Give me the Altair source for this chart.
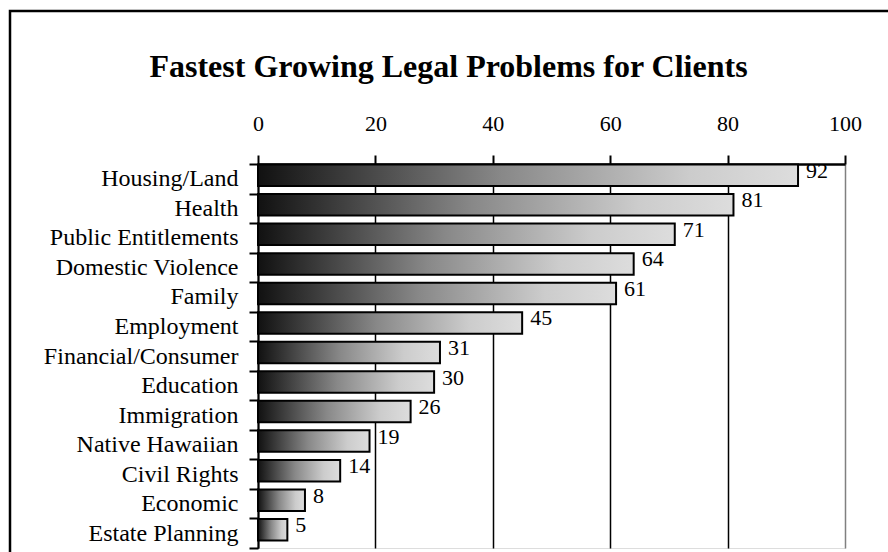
import altair as alt
import pandas as pd

categories = [
    "Housing/Land", "Health", "Public Entitlements", "Domestic Violence",
    "Family", "Employment", "Financial/Consumer", "Education",
    "Immigration", "Native Hawaiian", "Civil Rights", "Economic",
    "Estate Planning",
]
values = [92, 81, 71, 64, 61, 45, 31, 30, 26, 19, 14, 8, 5]
x_ticks = [0, 20, 40, 60, 80, 100]
title_text = "Fastest Growing Legal Problems for Clients"

df = pd.DataFrame({"category": categories, "value": values})
FONT = "Liberation Serif"

gradient = alt.Gradient(
    gradient="linear",
    stops=[
        alt.GradientStop(color="#111111", offset=0),
        alt.GradientStop(color="#888888", offset=0.45),
        alt.GradientStop(color="#cccccc", offset=0.8),
        alt.GradientStop(color="#dddddd", offset=1),
    ],
    x1=0, x2=1, y1=0, y2=0,
)

x_enc = alt.X(
    "value:Q",
    scale=alt.Scale(domain=[0, 100], nice=False),
    axis=alt.Axis(
        orient="top", values=x_ticks, title=None, grid=True,
        gridColor={"condition": {"test": "datum.value === 100", "value": "#808080"}, "value": "black"},
        gridWidth=1.5, domainColor="black", domainWidth=2.5,
        tickColor="black", tickWidth=2, tickSize=9,
        labelFont=FONT, labelFontSize=22, labelColor="black",
        labelPadding=20, labelFlush=False,
    ),
)
y_enc = alt.Y(
    "category:N", sort=categories,
    scale=alt.Scale(paddingInner=0, paddingOuter=0),
    axis=alt.Axis(
        title=None, tickBand="extent", tickSize=9, tickWidth=2,
        tickColor="black", domainColor="black", domainWidth=2,
        labelFont=FONT, labelFontSize=24, labelColor="black",
        labelPadding=11, labelLimit=400, grid=False,
    ),
)

bars = alt.Chart(df).mark_bar(
    color=gradient, stroke="black", strokeWidth=2, height=21.5, yOffset=-3.5
).encode(x=x_enc, y=y_enc)

labels = alt.Chart(df).mark_text(
    align="left", baseline="middle", dx=8, dy=-8,
    font=FONT, fontSize=22, color="black",
).encode(
    x=alt.X("value:Q"),
    y=alt.Y("category:N", sort=categories),
    text="value:Q",
)

frame = alt.Chart(pd.DataFrame({"f": [0]})).mark_rect(
    fillOpacity=0, stroke="black", strokeWidth=2.5
).encode(
    x=alt.value(-248), x2=alt.value(700), y=alt.value(-153), y2=alt.value(500)
)

chart = alt.layer(bars, labels, frame).properties(
    width=587, height=384,
    autosize=alt.AutoSizeParams(type="none"),
    padding={"left": 258, "top": 164, "right": 43, "bottom": 4},
    title=alt.Title(
        title_text, font=FONT, fontSize=32, fontWeight="bold", color="black",
        anchor="middle", frame="group", dx=-103, dy=78,
    ),
).configure_view(stroke="#808080", strokeWidth=2).configure(background="white")

chart.save("out.html", embed_options={"renderer": "svg", "actions": False})
